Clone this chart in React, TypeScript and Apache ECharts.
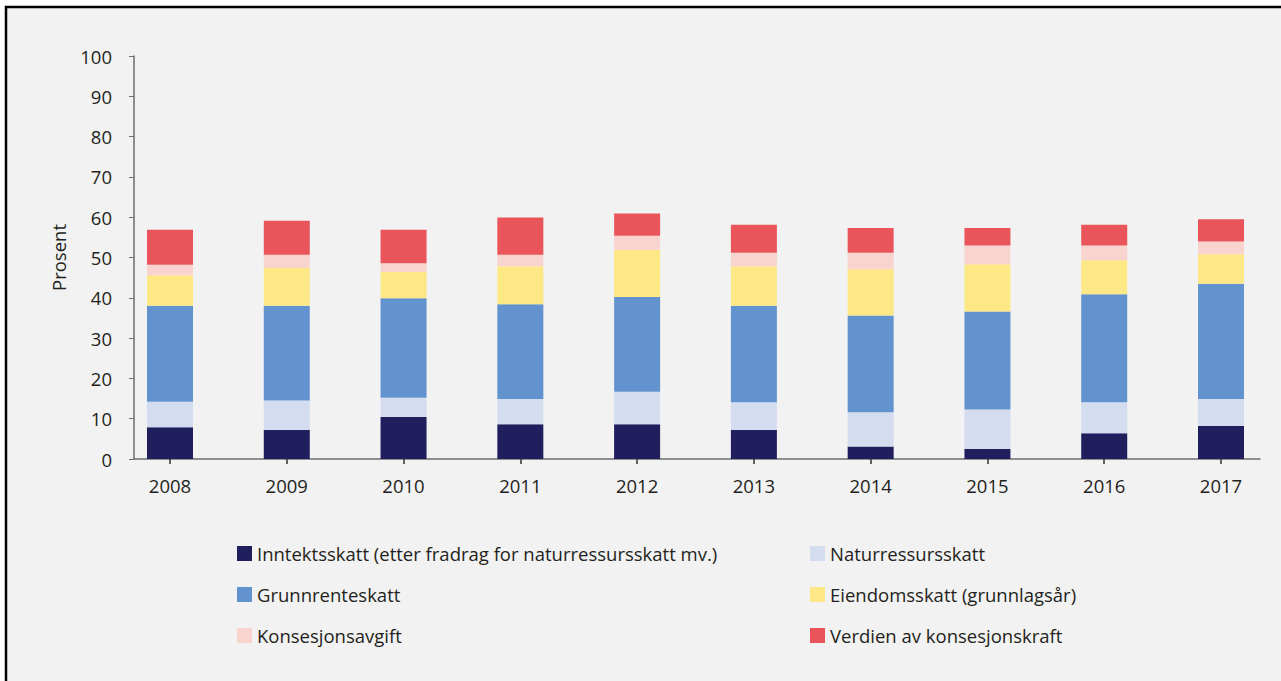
import React, { useEffect, useRef } from "react";
import * as echarts from "echarts";

const years = ["2008", "2009", "2010", "2011", "2012", "2013", "2014", "2015", "2016", "2017"];
const seriesNames = [
  "Inntektsskatt (etter fradrag for naturressursskatt mv.)",
  "Naturressursskatt",
  "Grunnrenteskatt",
  "Eiendomsskatt (grunnlagsår)",
  "Konsesjonsavgift",
  "Verdien av konsesjonskraft",
];
const inntektsskatt = [7.9, 7.2, 10.4, 8.6, 8.6, 7.2, 3.1, 2.5, 6.4, 8.2];
const naturressursskatt = [6.3, 7.3, 4.8, 6.3, 8.1, 6.9, 8.5, 9.8, 7.7, 6.7];
const grunnrenteskatt = [23.8, 23.5, 24.7, 23.5, 23.5, 23.9, 24.0, 24.3, 26.8, 28.6];
const eiendomsskatt = [7.6, 9.4, 6.5, 9.4, 11.7, 9.8, 11.5, 11.7, 8.4, 7.3];
const konsesjonsavgift = [2.6, 3.3, 2.2, 2.9, 3.5, 3.4, 4.1, 4.7, 3.7, 3.2];
const konsesjonskraft = [8.7, 8.4, 8.3, 9.2, 5.5, 6.9, 6.1, 4.3, 5.1, 5.5];
const colors = ["#211e5e", "#d4dcf0", "#6293ce", "#fee886", "#f9d4cf", "#ea555b"];

const allValues = [inntektsskatt, naturressursskatt, grunnrenteskatt, eiendomsskatt, konsesjonsavgift, konsesjonskraft];

const FONT = "Open Sans";
const TXT = "#231f20";
const AX = "#6d6e71";
const FS = 18.5;

export default function App() {
  const ref = useRef<HTMLDivElement>(null);
  useEffect(() => {
    if (!ref.current) return;
    const chart = echarts.init(ref.current, null, { renderer: "svg" });
    const idx = years.map((_, i) => i);
    chart.setOption({
      animation: false,
      backgroundColor: "#ffffff",
      textStyle: { fontFamily: FONT, color: TXT },
      graphic: [
        {
          type: "rect",
          z: -10,
          shape: { x: 6, y: 7, width: 1400, height: 800 },
          style: { fill: "#f2f2f2", stroke: "#000000", lineWidth: 2.5 },
        },
      ],
      grid: [
        { left: 134, right: 21, top: 56, bottom: 222 },
        { left: 170, right: 60, top: 56, bottom: 222 },
      ],
      xAxis: [
        {
          type: "value",
          gridIndex: 0,
          min: -0.308,
          max: 9.334,
          splitLine: { show: false },
          axisLine: { show: true, onZero: false, lineStyle: { color: AX, width: 1.5 } },
          axisTick: { show: true, length: 5, customValues: idx, lineStyle: { color: "#333", width: 1.5 } },
          axisLabel: {
            customValues: idx,
            formatter: (v: number) => years[Math.round(v)],
            color: TXT,
            fontSize: FS,
            fontFamily: FONT,
            margin: 17,
          },
        },
        {
          type: "category",
          gridIndex: 1,
          data: years,
          boundaryGap: false,
          show: false,
        },
      ],
      yAxis: [
        {
          type: "value",
          gridIndex: 0,
          min: 0,
          max: 100,
          interval: 10,
          name: "Prosent",
          nameLocation: "middle",
          nameGap: 66,
          nameTextStyle: { color: TXT, fontSize: FS, fontFamily: FONT },
          splitLine: { show: false },
          axisLine: { show: true, onZero: false, lineStyle: { color: AX, width: 1.5 } },
          axisTick: { show: true, length: 5, lineStyle: { color: AX } },
          axisLabel: {
            color: TXT,
            fontSize: FS,
            fontFamily: FONT,
            margin: 22,
          },
        },
        {
          type: "value",
          gridIndex: 1,
          min: 0,
          max: 100,
          interval: 10,
          show: false,
        },
      ],
      legend: [
        {
          data: seriesNames.filter((_, i) => i % 2 === 0),
          orient: "vertical",
          left: 232,
          top: 539,
          itemWidth: 15,
          itemHeight: 15,
          itemGap: 22,
          icon: "rect",
          textStyle: { color: TXT, fontSize: FS, fontFamily: FONT },
        },
        {
          data: seriesNames.filter((_, i) => i % 2 === 1),
          orient: "vertical",
          left: 805,
          top: 539,
          itemWidth: 15,
          itemHeight: 15,
          itemGap: 22,
          icon: "rect",
          textStyle: { color: TXT, fontSize: FS, fontFamily: FONT },
        },
      ],
      series: seriesNames.map((name, s) => ({
        name,
        type: "bar",
        stack: "total",
        xAxisIndex: 1,
        yAxisIndex: 1,
        barWidth: 46,
        itemStyle: { color: colors[s] },
        data: allValues[s],
      })),
    });
    return () => chart.dispose();
  }, []);
  return (
    <div
      ref={ref}
      style={{ position: "absolute", left: 0, top: 0, width: 1281, height: 681 }}
    />
  );
}
